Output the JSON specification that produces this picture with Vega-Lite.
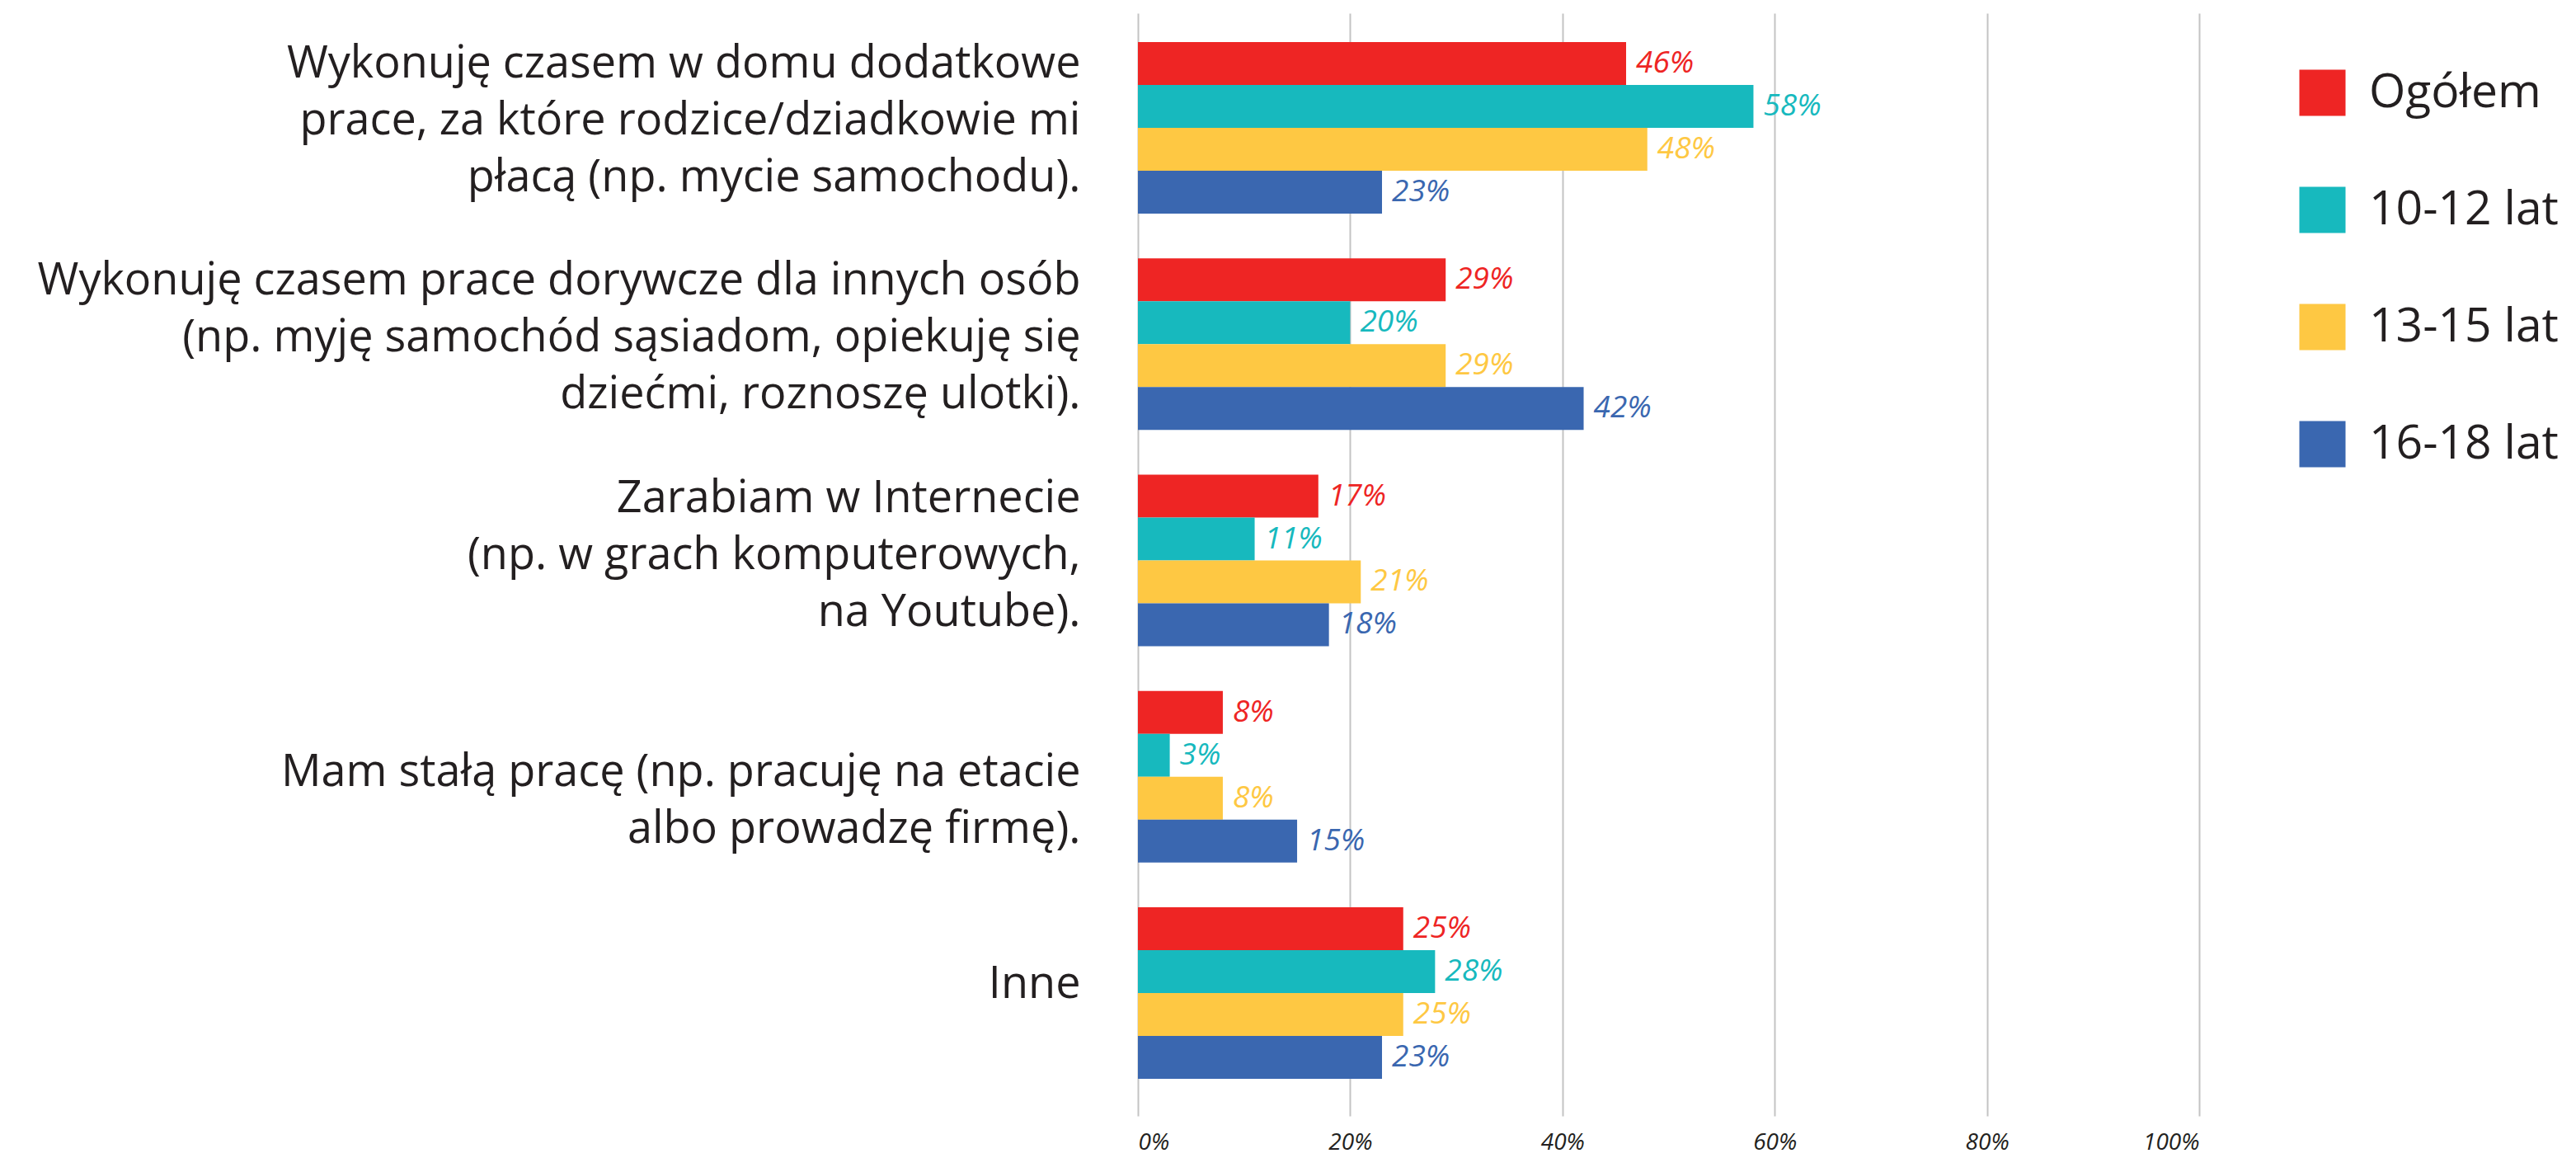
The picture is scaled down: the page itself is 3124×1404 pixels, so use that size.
{
  "$schema": "https://vega.github.io/schema/vega-lite/v6.json",
  "autosize": {"type": "none"},
  "padding": {"left": 1380, "top": 16, "right": 457, "bottom": 51},
  "width": 1287,
  "height": 1337,
  "background": "white",
  "config": {
    "view": {"stroke": null},
    "font": "Open Sans"
  },
  "data": {
    "values": [
      {"cat": "Wykonuję czasem w domu dodatkowe|prace, za które rodzice/dziadkowie mi|płacą (np. mycie samochodu).", "grp": "Ogółem", "v": 0.46},
      {"cat": "Wykonuję czasem w domu dodatkowe|prace, za które rodzice/dziadkowie mi|płacą (np. mycie samochodu).", "grp": "10-12 lat", "v": 0.58},
      {"cat": "Wykonuję czasem w domu dodatkowe|prace, za które rodzice/dziadkowie mi|płacą (np. mycie samochodu).", "grp": "13-15 lat", "v": 0.48},
      {"cat": "Wykonuję czasem w domu dodatkowe|prace, za które rodzice/dziadkowie mi|płacą (np. mycie samochodu).", "grp": "16-18 lat", "v": 0.23},
      {"cat": "Wykonuję czasem prace dorywcze dla innych osób|(np. myję samochód sąsiadom, opiekuję się|dziećmi, roznoszę ulotki).", "grp": "Ogółem", "v": 0.29},
      {"cat": "Wykonuję czasem prace dorywcze dla innych osób|(np. myję samochód sąsiadom, opiekuję się|dziećmi, roznoszę ulotki).", "grp": "10-12 lat", "v": 0.20},
      {"cat": "Wykonuję czasem prace dorywcze dla innych osób|(np. myję samochód sąsiadom, opiekuję się|dziećmi, roznoszę ulotki).", "grp": "13-15 lat", "v": 0.29},
      {"cat": "Wykonuję czasem prace dorywcze dla innych osób|(np. myję samochód sąsiadom, opiekuję się|dziećmi, roznoszę ulotki).", "grp": "16-18 lat", "v": 0.42},
      {"cat": "Zarabiam w Internecie\u00a0|(np. w grach komputerowych,\u00a0|na Youtube).\u00a0", "grp": "Ogółem", "v": 0.17},
      {"cat": "Zarabiam w Internecie\u00a0|(np. w grach komputerowych,\u00a0|na Youtube).\u00a0", "grp": "10-12 lat", "v": 0.11},
      {"cat": "Zarabiam w Internecie\u00a0|(np. w grach komputerowych,\u00a0|na Youtube).\u00a0", "grp": "13-15 lat", "v": 0.21},
      {"cat": "Zarabiam w Internecie\u00a0|(np. w grach komputerowych,\u00a0|na Youtube).\u00a0", "grp": "16-18 lat", "v": 0.18},
      {"cat": "Mam stałą pracę (np. pracuję na etacie\u00a0|albo prowadzę firmę).", "grp": "Ogółem", "v": 0.08},
      {"cat": "Mam stałą pracę (np. pracuję na etacie\u00a0|albo prowadzę firmę).", "grp": "10-12 lat", "v": 0.03},
      {"cat": "Mam stałą pracę (np. pracuję na etacie\u00a0|albo prowadzę firmę).", "grp": "13-15 lat", "v": 0.08},
      {"cat": "Mam stałą pracę (np. pracuję na etacie\u00a0|albo prowadzę firmę).", "grp": "16-18 lat", "v": 0.15},
      {"cat": "Inne", "grp": "Ogółem", "v": 0.25},
      {"cat": "Inne", "grp": "10-12 lat", "v": 0.28},
      {"cat": "Inne", "grp": "13-15 lat", "v": 0.25},
      {"cat": "Inne", "grp": "16-18 lat", "v": 0.23}
    ]
  },
  "encoding": {
    "y": {
      "field": "cat",
      "type": "nominal",
      "sort": null,
      "title": null,
      "scale": {"paddingInner": 0.207, "paddingOuter": 0.1527, "align": 0.4375},
      "axis": {
        "labelExpr": "split(datum.label, '|')",
        "labelFontSize": 54,
        "labelLineHeight": 69,
        "labelPadding": 70,
        "labelColor": "#231f20",
        "labelLimit": 0,
        "labelOffset": {
          "condition": [
            {"test": "indexof(datum.value, 'dodatkowe') >= 0", "value": -77},
            {"test": "indexof(datum.value, 'dorywcze') >= 0", "value": -76},
            {"test": "indexof(datum.value, 'Zarabiam') >= 0", "value": -74},
            {"test": "indexof(datum.value, 'Mam') >= 0", "value": -5}
          ],
          "value": -10
        },
        "ticks": false,
        "domain": false,
        "grid": false
      }
    },
    "yOffset": {
      "field": "grp",
      "type": "nominal",
      "sort": ["Ogółem", "10-12 lat", "13-15 lat", "16-18 lat"],
      "scale": {"paddingInner": 0, "paddingOuter": 0}
    },
    "x": {
      "field": "v",
      "type": "quantitative",
      "title": null,
      "scale": {"domain": [0, 1], "nice": false},
      "axis": {
        "values": [0, 0.2, 0.4, 0.6, 0.8, 1],
        "format": ".0%",
        "labelFontSize": 28,
        "labelFontStyle": "italic",
        "labelColor": "#231f20",
        "labelPadding": 18,
        "ticks": false,
        "domain": false,
        "grid": true,
        "gridColor": "#c4c4c4",
        "gridWidth": 2
      }
    },
    "color": {
      "field": "grp",
      "type": "nominal",
      "scale": {
        "domain": ["Ogółem", "10-12 lat", "13-15 lat", "16-18 lat"],
        "range": ["#EE2524", "#17B9BE", "#FEC843", "#3A67B0"]
      },
      "legend": {
        "orient": "none",
        "legendX": 1408,
        "legendY": 68,
        "title": null,
        "padding": 0,
        "symbolType": "square",
        "symbolSize": 3136,
        "symbolStrokeWidth": 0,
        "symbolOpacity": 1,
        "labelFontSize": 57,
        "labelColor": "#231f20",
        "labelOffset": 28,
        "rowPadding": 84,
        "labelLimit": 0
      }
    }
  },
  "layer": [
    {"mark": {"type": "bar", "opacity": 1}},
    {
      "mark": {"type": "text", "align": "left", "baseline": "middle", "dx": 12, "fontSize": 37, "fontStyle": "italic"},
      "encoding": {
        "text": {"field": "v", "type": "quantitative", "format": ".0%"}
      }
    }
  ]
}
